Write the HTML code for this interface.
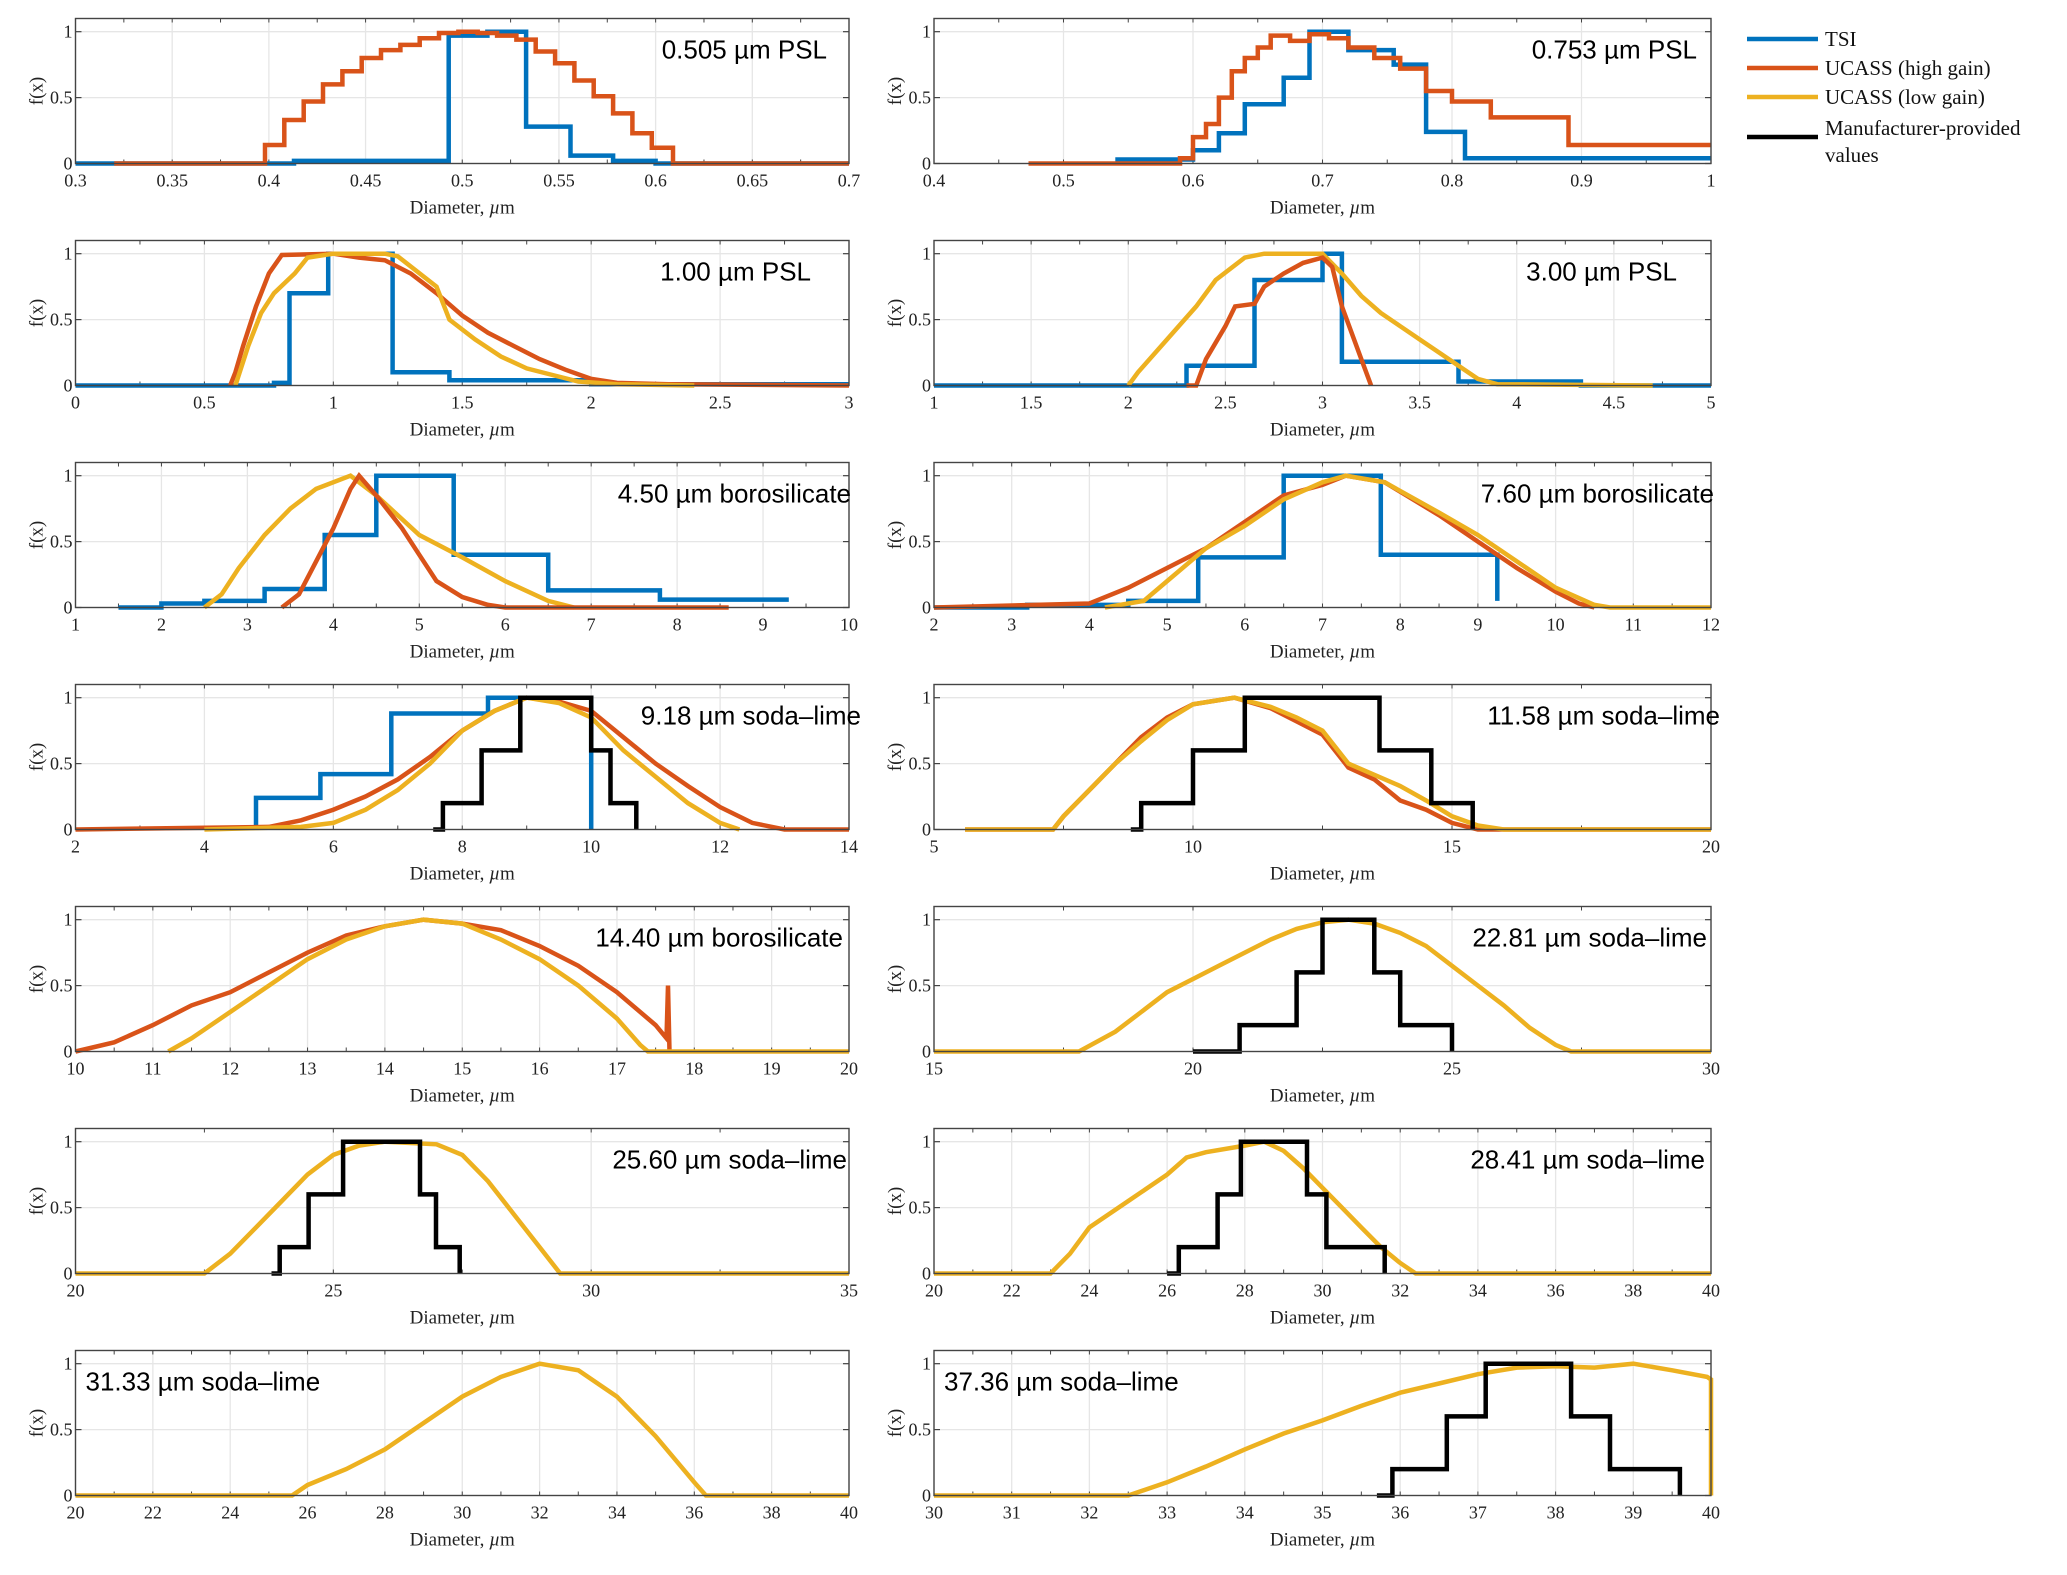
<!DOCTYPE html>
<html><head><meta charset="utf-8"><style>
html,body{margin:0;padding:0;background:#fff;}
svg text{font-family:"Liberation Serif",serif;}
.ann{font-family:"Liberation Sans",sans-serif;font-size:26px;fill:#000;}
</style></head><body>
<svg id="fig" width="2067" height="1570" viewBox="0 0 2067 1570" xmlns="http://www.w3.org/2000/svg"></svg>
<script>
const C={tsi:'#0072BD',hi:'#D95319',lo:'#EDB120',man:'#000000'};
const p1_tsi_e=[0.3,0.413,0.493,0.513,0.533,0.556,0.578,0.6,0.61,0.7];
const p1_tsi_v=[0,0.02,0.97,1.0,0.28,0.06,0.02,0,0];
const p1_hi_e=[0.32,0.398,0.408,0.418,0.428,0.438,0.448,0.458,0.468,0.478,0.488,0.498,0.508,0.518,0.528,0.538,0.548,0.558,0.568,0.578,0.588,0.598,0.609,0.7];
const p1_hi_v=[0,0.14,0.33,0.47,0.6,0.7,0.8,0.86,0.9,0.95,0.99,1.0,0.99,0.97,0.94,0.85,0.76,0.63,0.51,0.38,0.23,0.12,0];
const p2_tsi_e=[0.54,0.6,0.62,0.64,0.67,0.69,0.72,0.755,0.78,0.81,1.0];
const p2_tsi_v=[0.03,0.1,0.23,0.45,0.65,1.0,0.86,0.75,0.24,0.04];
const p2_hi_e=[0.473,0.59,0.6,0.61,0.62,0.63,0.64,0.65,0.66,0.675,0.69,0.705,0.72,0.74,0.76,0.78,0.8,0.83,0.89,1.0];
const p2_hi_v=[0,0.04,0.2,0.3,0.5,0.7,0.8,0.88,0.97,0.93,0.98,0.95,0.88,0.8,0.72,0.55,0.47,0.35,0.14];
const p3_tsi_e=[0,0.77,0.83,0.98,1.23,1.45,2.0,3.0];
const p3_tsi_v=[0,0.02,0.7,1.0,0.1,0.04,0.01];
const p3_hi_x=[0.6,0.62,0.65,0.7,0.75,0.8,1.0,1.1,1.2,1.3,1.4,1.5,1.6,1.7,1.8,1.9,2.0,2.1,2.3,3.0];
const p3_hi_y=[0,0.1,0.3,0.6,0.85,0.99,1.0,0.97,0.95,0.85,0.7,0.53,0.4,0.3,0.2,0.12,0.05,0.02,0.01,0];
const p3_lo_x=[0.62,0.67,0.72,0.77,0.85,0.9,1.0,1.2,1.25,1.4,1.45,1.55,1.65,1.75,1.85,1.95,2.1,2.4];
const p3_lo_y=[0,0.3,0.55,0.7,0.85,0.97,1.0,1.0,0.98,0.75,0.5,0.35,0.22,0.13,0.08,0.03,0.01,0];
const p4_tsi_e=[1,2.3,2.65,3.0,3.1,3.7,4.33,5.0];
const p4_tsi_v=[0,0.15,0.8,1.0,0.18,0.03,0];
const p4_hi_x=[2.3,2.35,2.4,2.5,2.55,2.65,2.7,2.8,2.9,3.0,3.05,3.1,3.2,3.25];
const p4_hi_y=[0,0,0.2,0.45,0.6,0.62,0.75,0.85,0.93,0.97,0.9,0.6,0.2,0];
const p4_lo_x=[2.0,2.05,2.2,2.35,2.45,2.6,2.7,3.0,3.1,3.2,3.3,3.4,3.5,3.6,3.7,3.8,3.9,4.7];
const p4_lo_y=[0,0.1,0.35,0.6,0.8,0.97,1.0,1.0,0.85,0.68,0.55,0.45,0.35,0.25,0.15,0.05,0.01,0];
const p5_tsi_e=[1.5,2.0,2.5,3.2,3.9,4.5,5.4,6.5,7.8,9.3];
const p5_tsi_v=[0,0.03,0.05,0.14,0.55,1.0,0.4,0.13,0.06];
const p5_hi_x=[3.4,3.6,3.8,4.0,4.2,4.3,4.5,4.8,5.0,5.2,5.5,5.8,6.0,8.6];
const p5_hi_y=[0,0.1,0.35,0.6,0.9,1.0,0.85,0.6,0.4,0.2,0.08,0.02,0,0];
const p5_lo_x=[2.5,2.7,2.9,3.2,3.5,3.8,4.2,4.5,5.0,5.5,6.0,6.5,6.8];
const p5_lo_y=[0,0.1,0.3,0.55,0.75,0.9,1.0,0.85,0.55,0.38,0.2,0.05,0];
const p6_tsi_e=[2.0,3.2,4.5,5.4,6.5,7.75,9.25,9.25];
const p6_tsi_v=[0,0.02,0.05,0.38,1.0,0.4,0.05];
const p6_hi_x=[2.0,4.0,4.5,5.0,5.5,6.0,6.5,7.0,7.3,7.8,8.5,9.0,9.5,10.0,10.3,10.5];
const p6_hi_y=[0,0.03,0.15,0.3,0.45,0.65,0.85,0.93,1.0,0.95,0.7,0.5,0.3,0.12,0.03,0];
const p6_lo_x=[4.2,4.7,5.0,5.5,6.0,6.5,7.0,7.3,7.8,8.5,9.0,9.5,10.0,10.5,10.7,12.0];
const p6_lo_y=[0,0.05,0.2,0.45,0.62,0.82,0.95,1.0,0.95,0.72,0.55,0.35,0.15,0.02,0,0];
const p7_tsi_e=[4.8,4.8,5.8,6.9,8.4,10.0,10.0];
const p7_tsi_v=[0,0.24,0.42,0.88,1.0,0];
const p7_hi_x=[2,5,5.5,6.0,6.5,7,7.5,8,8.5,9,9.5,10,10.5,11,11.5,12,12.5,13,14];
const p7_hi_y=[0,0.02,0.07,0.15,0.25,0.38,0.55,0.75,0.9,1.0,0.97,0.9,0.7,0.5,0.33,0.17,0.05,0,0];
const p7_lo_x=[4,5.5,6.0,6.5,7.0,7.5,8.0,8.5,9.0,9.5,10.0,10.5,11.0,11.5,12.0,12.3];
const p7_lo_y=[0,0.02,0.05,0.15,0.3,0.5,0.75,0.9,1.0,0.96,0.85,0.6,0.4,0.2,0.05,0];
const p7_man_e=[7.55,7.7,8.3,8.9,10.0,10.3,10.7,10.7];
const p7_man_v=[0,0.2,0.6,1.0,0.6,0.2,0];
const p8_hi_x=[5.6,7.3,7.5,8,8.5,9,9.5,10,10.8,11.5,12,12.5,13,13.5,14,14.5,15,15.5,20];
const p8_hi_y=[0,0,0.1,0.3,0.5,0.7,0.85,0.95,1.0,0.92,0.82,0.72,0.47,0.38,0.22,0.15,0.05,0,0];
const p8_lo_x=[5.6,7.3,7.5,8,8.5,9,9.5,10,10.8,11.5,12,12.5,13,14,14.5,15,15.5,16,20];
const p8_lo_y=[0,0,0.1,0.3,0.5,0.67,0.83,0.95,1.0,0.93,0.85,0.75,0.5,0.33,0.22,0.1,0.03,0,0];
const p8_man_e=[8.8,9.0,10.0,11.0,13.6,14.6,15.4,15.4];
const p8_man_v=[0,0.2,0.6,1.0,0.6,0.2,0];
const p9_hi_x=[10,10.5,11,11.5,12,12.5,13,13.5,14,14.5,15,15.5,16,16.5,17,17.5,17.64,17.66,17.68];
const p9_hi_y=[0,0.07,0.2,0.35,0.45,0.6,0.75,0.88,0.95,1.0,0.97,0.92,0.8,0.65,0.45,0.2,0.1,0.5,0];
const p9_lo_x=[11.2,11.5,12,12.5,13,13.5,14,14.5,15,15.5,16,16.5,17,17.3,17.4,20];
const p9_lo_y=[0,0.1,0.3,0.5,0.7,0.85,0.95,1.0,0.97,0.85,0.7,0.5,0.25,0.05,0,0];
const p10_lo_x=[15,17.8,18.5,19,19.5,20,20.5,21,21.5,22,22.5,23,23.5,24,24.5,25,25.5,26,26.5,27,27.3,30];
const p10_lo_y=[0,0,0.15,0.3,0.45,0.55,0.65,0.75,0.85,0.93,0.98,1.0,0.97,0.9,0.8,0.65,0.5,0.35,0.18,0.05,0,0];
const p10_man_e=[20,20.9,22.0,22.5,23.5,24.0,25.0,25.0];
const p10_man_v=[0,0.2,0.6,1.0,0.6,0.2,0];
const p11_lo_x=[20,22.5,23,23.5,24,24.5,25,25.5,26,27,27.5,28,28.5,29,29.4,35];
const p11_lo_y=[0,0,0.15,0.35,0.55,0.75,0.9,0.97,1.0,0.98,0.9,0.7,0.45,0.2,0,0];
const p11_man_e=[23.8,23.96,24.52,25.19,26.68,26.99,27.45,27.45];
const p11_man_v=[0,0.2,0.6,1.0,0.6,0.2,0];
const p12_lo_x=[20,23,23.5,24,25,26,26.5,27,28,28.5,29,29.5,30,30.5,31,31.5,32,32.4,40];
const p12_lo_y=[0,0,0.15,0.35,0.55,0.75,0.88,0.92,0.97,1.0,0.93,0.8,0.65,0.5,0.35,0.2,0.08,0,0];
const p12_man_e=[26.0,26.3,27.3,27.9,29.6,30.1,31.6,31.6];
const p12_man_v=[0,0.2,0.6,1.0,0.6,0.2,0];
const p13_lo_x=[20,25.6,26,27,28,29,30,31,32,33,34,35,36,36.3,40];
const p13_lo_y=[0,0,0.08,0.2,0.35,0.55,0.75,0.9,1.0,0.95,0.75,0.45,0.1,0,0];
const p14_lo_x=[30,32.5,33,33.5,34,34.5,35,35.5,36,36.5,37,37.5,38,38.5,39,39.5,39.95,40,40];
const p14_lo_y=[0,0,0.1,0.22,0.35,0.47,0.57,0.68,0.78,0.85,0.92,0.97,0.98,0.97,1.0,0.95,0.9,0.88,0];
const p14_man_e=[35.7,35.9,36.6,37.1,38.2,38.7,39.6,39.6];
const p14_man_v=[0,0.2,0.6,1.0,0.6,0.2,0];

const panels=[
 {t:'0.505 µm PSL',xl:[0.3,0.7],tk:[0.3,0.35,0.4,0.45,0.5,0.55,0.6,0.65,0.7],lab:['0.3','0.35','0.4','0.45','0.5','0.55','0.6','0.65','0.7'],al:'r',ao:22,s:[['tsi','st',p1_tsi_e,p1_tsi_v],['hi','st',p1_hi_e,p1_hi_v]]},
 {t:'0.753 µm PSL',xl:[0.4,1],tk:[0.4,0.5,0.6,0.7,0.8,0.9,1],lab:['0.4','0.5','0.6','0.7','0.8','0.9','1'],al:'r',ao:14,s:[['tsi','st',p2_tsi_e,p2_tsi_v],['hi','st',p2_hi_e,p2_hi_v]]},
 {t:'1.00 µm PSL',xl:[0,3],tk:[0,0.5,1,1.5,2,2.5,3],lab:['0','0.5','1','1.5','2','2.5','3'],al:'r',ao:38,s:[['tsi','st',p3_tsi_e,p3_tsi_v],['hi','ln',p3_hi_x,p3_hi_y],['lo','ln',p3_lo_x,p3_lo_y]]},
 {t:'3.00 µm PSL',xl:[1,5],tk:[1,1.5,2,2.5,3,3.5,4,4.5,5],lab:['1','1.5','2','2.5','3','3.5','4','4.5','5'],al:'r',ao:34,s:[['tsi','st',p4_tsi_e,p4_tsi_v],['lo','ln',p4_lo_x,p4_lo_y],['hi','ln',p4_hi_x,p4_hi_y]]},
 {t:'4.50 µm borosilicate',xl:[1,10],tk:[1,2,3,4,5,6,7,8,9,10],lab:['1','2','3','4','5','6','7','8','9','10'],al:'r',ao:-2,s:[['tsi','st',p5_tsi_e,p5_tsi_v],['lo','ln',p5_lo_x,p5_lo_y],['hi','ln',p5_hi_x,p5_hi_y]]},
 {t:'7.60 µm borosilicate',xl:[2,12],tk:[2,3,4,5,6,7,8,9,10,11,12],lab:['2','3','4','5','6','7','8','9','10','11','12'],al:'r',ao:-3,s:[['tsi','st',p6_tsi_e,p6_tsi_v],['hi','ln',p6_hi_x,p6_hi_y],['lo','ln',p6_lo_x,p6_lo_y]]},
 {t:'9.18 µm soda–lime',xl:[2,14],tk:[2,4,6,8,10,12,14],lab:['2','4','6','8','10','12','14'],al:'r',ao:-12,s:[['tsi','st',p7_tsi_e,p7_tsi_v],['hi','ln',p7_hi_x,p7_hi_y],['lo','ln',p7_lo_x,p7_lo_y],['man','st',p7_man_e,p7_man_v]]},
 {t:'11.58 µm soda–lime',xl:[5,20],tk:[5,10,15,20],lab:['5','10','15','20'],al:'r',ao:-9,s:[['hi','ln',p8_hi_x,p8_hi_y],['lo','ln',p8_lo_x,p8_lo_y],['man','st',p8_man_e,p8_man_v]]},
 {t:'14.40 µm borosilicate',xl:[10,20],tk:[10,11,12,13,14,15,16,17,18,19,20],lab:['10','11','12','13','14','15','16','17','18','19','20'],al:'r',ao:6,s:[['hi','ln',p9_hi_x,p9_hi_y],['lo','ln',p9_lo_x,p9_lo_y]]},
 {t:'22.81 µm soda–lime',xl:[15,30],tk:[15,20,25,30],lab:['15','20','25','30'],al:'r',ao:4,s:[['lo','ln',p10_lo_x,p10_lo_y],['man','st',p10_man_e,p10_man_v]]},
 {t:'25.60 µm soda–lime',xl:[20,35],tk:[20,25,30,35],lab:['20','25','30','35'],al:'r',ao:2,s:[['lo','ln',p11_lo_x,p11_lo_y],['man','st',p11_man_e,p11_man_v]]},
 {t:'28.41 µm soda–lime',xl:[20,40],tk:[20,22,24,26,28,30,32,34,36,38,40],lab:['20','22','24','26','28','30','32','34','36','38','40'],al:'r',ao:6,s:[['lo','ln',p12_lo_x,p12_lo_y],['man','st',p12_man_e,p12_man_v]]},
 {t:'31.33 µm soda–lime',xl:[20,40],tk:[20,22,24,26,28,30,32,34,36,38,40],lab:['20','22','24','26','28','30','32','34','36','38','40'],al:'l',ao:10,s:[['lo','ln',p13_lo_x,p13_lo_y]]},
 {t:'37.36 µm soda–lime',xl:[30,40],tk:[30,31,32,33,34,35,36,37,38,39,40],lab:['30','31','32','33','34','35','36','37','38','39','40'],al:'l',ao:10,s:[['lo','ln',p14_lo_x,p14_lo_y],['man','st',p14_man_e,p14_man_v]]}
];
const NS='http://www.w3.org/2000/svg';
const svg=document.getElementById('fig');
function mk(tag,at,par){const e=document.createElementNS(NS,tag);for(const k in at)e.setAttribute(k,at[k]);(par||svg).appendChild(e);return e;}
const COLX=[[75.5,849],[934,1711]];
panels.forEach((p,i)=>{
  const col=i%2,row=Math.floor(i/2);
  const x0=COLX[col][0],x1=COLX[col][1];
  const top=18.5+row*222,bot=top+145;
  const g=mk('g',{});
  
  
  const X=v=>x0+(v-p.xl[0])/(p.xl[1]-p.xl[0])*(x1-x0);
  const Y=v=>bot-(v/1.1)*(bot-top);
  p.tk.forEach(t=>{mk('line',{x1:X(t),x2:X(t),y1:top,y2:bot,stroke:'#e6e6e6','stroke-width':1.3},g);});
  [0.5,1].forEach(t=>{mk('line',{x1:x0,x2:x1,y1:Y(t),y2:Y(t),stroke:'#e6e6e6','stroke-width':1.3},g);});
  const step=p.tk[1]-p.tk[0];
  for(let v=p.xl[0];v<=p.xl[1]+1e-9;v+=step/2){mk('line',{x1:X(v),x2:X(v),y1:bot,y2:bot-4,stroke:'#444','stroke-width':1},g);mk('line',{x1:X(v),x2:X(v),y1:top,y2:top+4,stroke:'#444','stroke-width':1},g);}
  [0,0.5,1].forEach(t=>{mk('line',{x1:x0,x2:x0+6,y1:Y(t),y2:Y(t),stroke:'#444','stroke-width':1.2},g);mk('line',{x1:x1,x2:x1-6,y1:Y(t),y2:Y(t),stroke:'#444','stroke-width':1.2},g);});
  p.s.forEach(s=>{
    let pts=[];
    if(s[1]==='st'){const e=s[2],v=s[3];for(let k=0;k<v.length;k++){pts.push([X(e[k]),Y(v[k])]);pts.push([X(e[k+1]),Y(v[k])]);}}
    else{const xs=s[2],ys=s[3];for(let k=0;k<xs.length;k++){pts.push([X(xs[k]),Y(ys[k])]);}}
    const pl=mk('polyline',{points:pts.map(q=>q[0].toFixed(1)+','+q[1].toFixed(1)).join(' '),fill:'none',stroke:C[s[0]],'stroke-width':4.5,'stroke-linejoin':'miter'},g);
    
    
  });
  mk('rect',{x:x0,y:top,width:x1-x0,height:bot-top,fill:'none',stroke:'#444','stroke-width':1.4},g);
  p.tk.forEach((t,k)=>{const tx=mk('text',{x:X(t),y:bot+23,'font-size':18,'text-anchor':'middle',fill:'#222'},g);tx.textContent=p.lab[k];});
  [[0,'0'],[0.5,'0.5'],[1,'1']].forEach(a=>{const tx=mk('text',{x:x0-3,y:Y(a[0])+6,'font-size':18,'text-anchor':'end',fill:'#222'},g);tx.textContent=a[1];});
  const xt=mk('text',{x:(x0+x1)/2,y:bot+50,'font-size':19,'text-anchor':'middle',fill:'#222'},g);
  
  
  xt.innerHTML='Diameter, <tspan font-style="italic">µ</tspan>m';
  const yt=mk('text',{x:0,y:0,'font-size':19,'text-anchor':'middle',fill:'#222',transform:`translate(${x0-33},${(top+bot)/2}) rotate(-90)`},g);
  
  
  yt.textContent='f(x)';
  const an=mk('text',{class:'ann',x:p.al==='r'?x1-p.ao:x0+p.ao,y:top+40,'text-anchor':p.al==='r'?'end':'start'},g);
  
  
  an.textContent=p.t;
});
const leg=[['tsi','TSI',39],['hi','UCASS (high gain)',68],['lo','UCASS (low gain)',97],['man','Manufacturer-provided',137]];
const lg=mk('g',{});


leg.forEach(l=>{
  const e=mk('g',{},lg);
  
  
  mk('line',{x1:1747,x2:1818,y1:l[2],y2:l[2],stroke:C[l[0]],'stroke-width':4.5},e);
  const t=mk('text',{x:1825,y:(l[0]==='man'?128:l[2])+7,'font-size':21,fill:'#111'},e);
  t.textContent=l[1];
  if(l[0]==='man'){const t2=mk('text',{x:1825,y:162,'font-size':21,fill:'#111'},e);t2.textContent='values';}
});
</script>
</body></html>
